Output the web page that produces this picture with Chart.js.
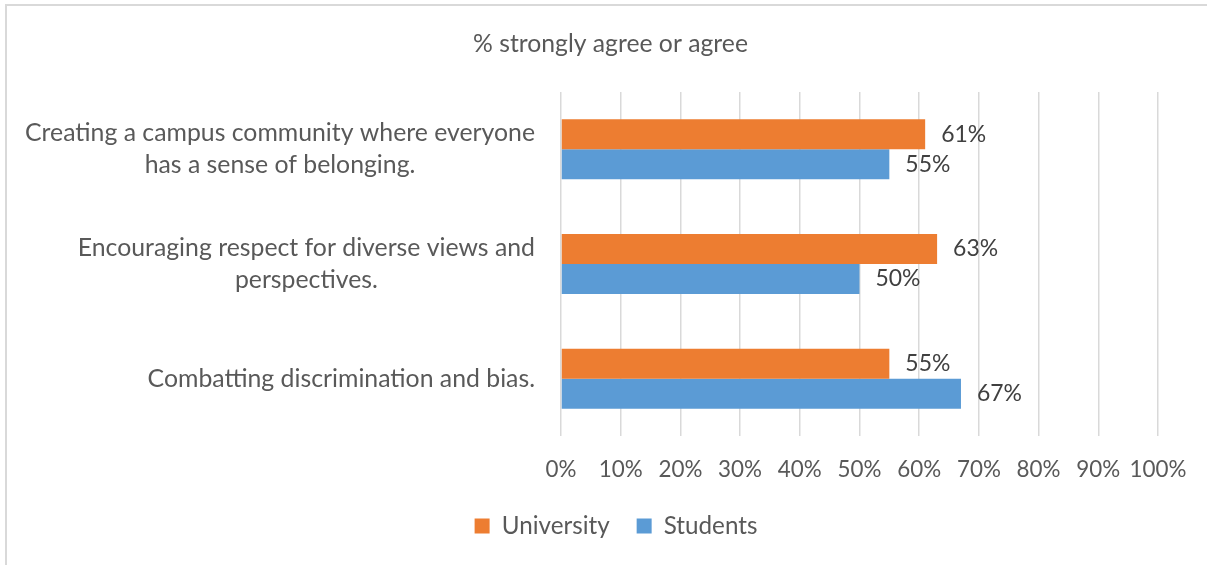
<!DOCTYPE html>
<html>
<head>
<meta charset="utf-8">
<script src="https://cdn.jsdelivr.net/npm/chart.js@4"></script>
<style>
html,body{margin:0;padding:0;background:#fff;overflow:hidden;width:1207px;height:565px}
#frame{position:absolute;left:5px;top:4px;width:1210px;height:620px;border:2px solid #d9d9d9;box-sizing:border-box}
#wrap{position:absolute;left:0;top:0;width:1207px;height:565px}
</style>
</head>
<body>
<div id="frame"></div>
<div id="wrap"><canvas id="c" width="1207" height="565"></canvas></div>
<script>
// ---- data ----
const categories = [
  ["Creating a campus community where everyone", "has a sense of belonging."],
  ["Encouraging respect for diverse views and", "perspectives."],
  ["Combatting discrimination and bias."]
];
const seriesNames = ["University", "Students"];
const universityValues = [61, 63, 55];
const studentValues = [55, 50, 67];
const tickLabels = ["0%", "10%", "20%", "30%", "40%", "50%", "60%", "70%", "80%", "90%", "100%"];
const titleText = "% strongly agree or agree";

// ---- style ----
const FAMILY = "Lato, 'Open Sans', sans-serif";
const TEXT = "#595959";
const VALUE_TEXT = "#404040";
const ORANGE = "#ED7D31";
const BLUE = "#5B9BD5";
const GRID = "#D9D9D9";

const mctx = document.createElement('canvas').getContext('2d');
function fitSize(text, target) {
  mctx.font = '100px ' + FAMILY;
  return 100 * target / mctx.measureText(text).width;
}
const catSize = fitSize(categories[0][0], 510);
const titleSize = fitSize(titleText, 275);
const tickSize = fitSize(tickLabels[tickLabels.length - 1], 57);
const legendSize = fitSize(seriesNames[0], 108);
const valueSize = fitSize(universityValues[0] + '%', 45);

const CAT_LINE = 32;
const PLOT_LEFT = 561, PLOT_TOP = 92, PLOT_BOTTOM = 436, PLOT_RIGHT = 1158;
const LEG_PAD = 27;
const TITLE_Y = 44, TICK_Y = 470, LEGEND_Y = 526;
const TITLE_CX = 610.5, LEGEND_CX = 616;

const titleTop = TITLE_Y - 0.6 * titleSize;
const titleBottom = PLOT_TOP - titleTop - 1.2 * titleSize;
const legendH = legendSize + LEG_PAD + 10;

const yLabelPlugin = {
  id: 'yLabels',
  afterDraw(chart) {
    const s = chart.scales.y, ctx = chart.ctx;
    ctx.save();
    ctx.font = catSize + 'px ' + FAMILY;
    ctx.fillStyle = TEXT;
    ctx.textAlign = 'center';
    ctx.textBaseline = 'middle';
    categories.forEach((lines, i) => {
      const w = Math.max(...lines.map(t => ctx.measureText(t).width));
      const cx = s.right - 26 - w / 2;
      const y0 = s.getPixelForTick(i) - (lines.length - 1) * CAT_LINE / 2;
      lines.forEach((t, k) => ctx.fillText(t, cx, y0 + k * CAT_LINE));
    });
    ctx.restore();
  }
};

const valuePlugin = {
  id: 'values',
  afterDatasetsDraw(chart) {
    const ctx = chart.ctx;
    ctx.save();
    ctx.font = valueSize + 'px ' + FAMILY;
    ctx.fillStyle = VALUE_TEXT;
    ctx.textAlign = 'left';
    ctx.textBaseline = 'middle';
    chart.data.datasets.forEach((ds, i) => {
      chart.getDatasetMeta(i).data.forEach((bar, j) => {
        ctx.fillText(ds.data[j] + '%', bar.x + 16, bar.y);
      });
    });
    ctx.restore();
  }
};

const placePlugin = {
  id: 'place',
  afterLayout(chart) {
    const t = chart.titleBlock;
    if (t) { const w = t.right - t.left; t.left = TITLE_CX - w / 2; t.right = TITLE_CX + w / 2; }
    const l = chart.legend;
    if (l) {
      const w = l.right - l.left; l.left = LEGEND_CX - w / 2; l.right = LEGEND_CX + w / 2;
      const h = l.bottom - l.top; l.top = LEGEND_Y - LEG_PAD - legendSize / 2; l.bottom = l.top + h;
    }
  }
};

new Chart(document.getElementById('c'), {
  type: 'bar',
  data: {
    labels: categories,
    datasets: [
      { label: seriesNames[0], data: universityValues, backgroundColor: ORANGE },
      { label: seriesNames[1], data: studentValues, backgroundColor: BLUE }
    ]
  },
  options: {
    indexAxis: 'y',
    responsive: false,
    animation: false,
    devicePixelRatio: 1,
    categoryPercentage: 0.523,
    barPercentage: 1,
    layout: { padding: { left: 0, right: 1207 - PLOT_RIGHT, top: 0, bottom: 0 } },
    plugins: {
      title: {
        display: true, text: titleText, color: TEXT,
        font: { family: FAMILY, size: titleSize, weight: 'normal' },
        padding: { top: titleTop, bottom: titleBottom }
      },
      legend: {
        position: 'bottom',
        labels: {
          boxWidth: 15, boxHeight: 15, padding: LEG_PAD, color: TEXT,
          font: { family: FAMILY, size: legendSize }
        }
      },
      tooltip: { enabled: false }
    },
    scales: {
      x: {
        min: 0, max: 100,
        ticks: {
          stepSize: 10, color: TEXT,
          maxRotation: 0, minRotation: 0, autoSkip: false,
          font: { family: FAMILY, size: tickSize },
          padding: TICK_Y - PLOT_BOTTOM - 0.6 * tickSize,
          callback: (v, i) => tickLabels[i]
        },
        grid: { color: GRID, lineWidth: 1.5, drawTicks: false },
        border: { display: false },
        afterFit: (s) => { s.height = 565 - PLOT_BOTTOM - legendH; }
      },
      y: {
        ticks: { display: false },
        grid: { display: false, drawTicks: false },
        border: { display: false },
        afterFit: (s) => { s.width = PLOT_LEFT; }
      }
    }
  },
  plugins: [yLabelPlugin, valuePlugin, placePlugin]
});
</script>
</body>
</html>
